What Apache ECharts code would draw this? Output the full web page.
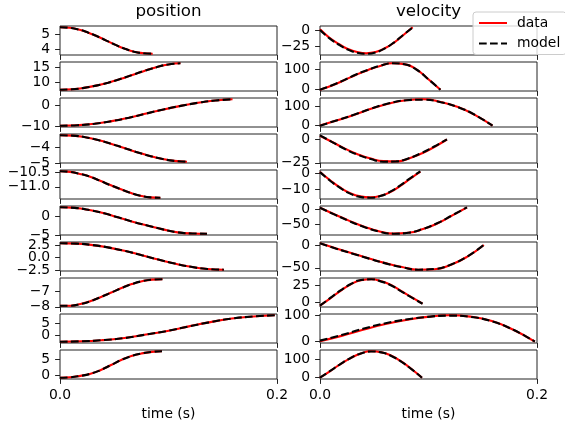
<!DOCTYPE html>
<html><head><meta charset="utf-8">
<script src="https://cdn.jsdelivr.net/npm/echarts@6/dist/echarts.min.js"></script>
<style>html,body{margin:0;padding:0;background:#fff}#c{width:565px;height:426px}</style>
</head><body><div id="c"></div>
<script>
const FONT = 'DejaVu Sans';
const columnTitles = ['position', 'velocity'];
const xLabel = 'time (s)';
const xTicks = [0, 0.2];

const times = [
  [0,0.0085,0.0171,0.0256,0.0342,0.0427,0.0512,0.0598,0.0683,0.0769,0.0854],
  [0,0.0111,0.0222,0.0333,0.0444,0.0555,0.0666,0.0777,0.0888,0.0999,0.111],
  [0,0.0159,0.0318,0.0477,0.0636,0.0795,0.0954,0.1113,0.1272,0.1431,0.159],
  [0,0.0117,0.0234,0.0351,0.0468,0.0585,0.0702,0.0819,0.0936,0.1053,0.117],
  [0,0.0093,0.0185,0.0278,0.037,0.0463,0.0555,0.0648,0.074,0.0833,0.0925],
  [0,0.0136,0.0271,0.0407,0.0542,0.0678,0.0813,0.0949,0.1084,0.122,0.1355],
  [0,0.0151,0.0302,0.0453,0.0604,0.0755,0.0906,0.1057,0.1208,0.1359,0.151],
  [0,0.0095,0.0189,0.0284,0.0378,0.0473,0.0567,0.0662,0.0756,0.0851,0.0945],
  [0,0.0198,0.0396,0.0594,0.0792,0.099,0.1188,0.1386,0.1584,0.1782,0.198],
  [0,0.0094,0.0188,0.0282,0.0376,0.047,0.0564,0.0658,0.0752,0.0846,0.094]
];

const posData = [
  [5.43,5.40,5.29,5.10,4.85,4.57,4.29,4.04,3.85,3.75,3.72],
  [7.40,7.54,8.02,8.78,9.78,11.02,12.40,13.78,15.02,15.97,16.35],
  [-9.60,-9.38,-8.70,-7.45,-5.80,-3.85,-1.90,-0.20,1.25,2.35,2.90],
  [-3.25,-3.27,-3.37,-3.55,-3.78,-4.04,-4.30,-4.54,-4.74,-4.87,-4.92],
  [-10.46,-10.48,-10.55,-10.65,-10.79,-10.94,-11.08,-11.21,-11.31,-11.37,-11.38],
  [2.48,2.32,1.75,0.85,-0.30,-1.50,-2.50,-3.50,-4.30,-4.60,-4.66],
  [2.83,2.77,2.48,1.98,1.30,0.48,-0.36,-1.15,-1.80,-2.22,-2.36],
  [-7.93,-7.93,-7.83,-7.64,-7.38,-7.10,-6.82,-6.57,-6.39,-6.29,-6.27],
  [-2.94,-2.78,-2.25,-1.35,0.20,1.80,3.80,5.70,7.25,8.20,8.69],
  [-0.60,-0.48,-0.05,0.60,1.75,3.25,4.80,6.00,6.80,7.28,7.44]
];
const posModel = posData;

const velData = [
  [2,-11,-21,-29,-34,-35.9,-34,-28,-19,-7,5.2],
  [-2,19,45,73,97,117,130,126,100,50,-2],
  [0,28,57,89,116,133,138,124,97,55,-1],
  [4,-3,-10,-16,-20.5,-23.2,-23.5,-20.3,-15,-8,0],
  [0.6,-4.5,-9,-12.5,-14.5,-15.1,-14.3,-11.8,-8,-3.5,0.8],
  [4,-18,-39,-58,-73,-80.7,-78,-66,-47,-21,5.5],
  [4.4,-7,-18,-29,-39.5,-48,-54,-53,-43,-25,0.7],
  [-4.4,6.5,17.5,27,33,34.4,31.5,25.5,16.5,7.5,-1.5],
  [2,22,45,66,82,94,100,95,78,45,0],
  [-1,36,74,108,134,146,141,121,88,46,-1]
];
const velModel = [
  [1,-12,-22,-30,-35,-36.5,-34.5,-28,-18.5,-6.5,5],
  [-2,20,46,74,98,118,130,125,99,50,-2],
  [-1,28,58,90,117,133,136,123,97,55,-1],
  [4.5,-3,-10.5,-16.5,-21,-23.8,-23.5,-20,-14.5,-7.5,0.2],
  [0.5,-4.8,-9.3,-12.8,-14.8,-15.3,-14.3,-11.6,-7.7,-3.2,1],
  [4,-18.5,-40,-59,-74,-81,-78,-65.5,-46,-20.5,5.5],
  [4.4,-7.5,-18.5,-29.5,-40,-48.5,-54,-52.5,-42.5,-24.5,1],
  [-4.4,7,18,27.5,33.5,34.4,31,25,16,7,-1.5],
  [4,25,49,69,84,94,99,94,77,45,0],
  [-1,37,75,109,134,145,140,120,87,45,-1]
];

const posTicks = [[4,5],[10,15],[-10,0],[-5,-4],[-11,-10.5],[-5,0],[-2.5,0,2.5],[-8,-7],[0,5],[0,5]];
const posDecimals = [0,0,0,0,1,0,1,0,0,0];
const velTicks = [[-25,0],[0,100],[0,100],[-25,0],[-10,0],[-50,0],[-50,0],[0,25],[0,100],[0,100]];
const velDecimals = [0,0,0,0,0,0,0,0,0,0];

const fmt = (v, dec) => v.toFixed(dec).replace('-', '\u2212');
const labelStyle = {fontSize: 13.9, color: '#000', fontFamily: FONT};
const LABEL_GAP = 9.8;

const grids = [], xAxes = [], yAxes = [], series = [], yLabelJobs = [];
const nRows = posData.length;
for (let col = 0; col < 2; col++) {
  for (let r = 0; r < nRows; r++) {
    const idx = col * nRows + r;
    const last = r === nRows - 1;
    grids.push({left: col ? 320 : 60, width: 217, top: 26 + 36 * r, height: 29,
      show: true, borderColor: '#222', borderWidth: 1, backgroundColor: 'transparent'});
    const xAxis = {gridIndex: idx, type: 'value', position: 'bottom', min: 0, max: 0.2,
      axisLine: {show: false, onZero: false}, splitLine: {show: false},
      axisTick: {show: true, customValues: xTicks, length: 4.9, lineStyle: {color: '#222', width: 1}},
      axisLabel: {show: false}};
    if (last) {
      xAxis.axisLabel = Object.assign({show: true, customValues: xTicks, formatter: v => fmt(v, 1), margin: LABEL_GAP,
        showMinLabel: true, showMaxLabel: true, hideOverlap: false}, labelStyle);
      xAxis.name = xLabel;
      xAxis.nameLocation = 'middle';
      xAxis.nameGap = 28;
      xAxis.nameTextStyle = labelStyle;
    }
    xAxes.push(xAxis);
    const d = col ? velData[r] : posData[r];
    const m = col ? velModel[r] : posModel[r];
    const ticks = col ? velTicks[r] : posTicks[r];
    const dec = col ? velDecimals[r] : posDecimals[r];
    const lo = Math.min(...d, ...m), hi = Math.max(...d, ...m), pad = (hi - lo) * 0.05;
    yAxes.push({gridIndex: idx, type: 'value', position: 'left', min: lo - pad, max: hi + pad,
      axisLine: {show: false, onZero: false}, splitLine: {show: false},
      axisTick: {show: true, customValues: ticks, length: 4.9, lineStyle: {color: '#222', width: 1}},
      axisLabel: {show: false}});
    ticks.forEach(tv => yLabelJobs.push({x: idx, y: idx, value: tv, text: fmt(tv, dec)}));
    series.push({type: 'line', name: 'data', xAxisIndex: idx, yAxisIndex: idx,
      data: times[r].map((t, k) => [t, d[k]]), symbol: 'none', smooth: true,
      lineStyle: {color: '#ff0000', width: 2.1}, itemStyle: {color: '#ff0000'}, z: 2});
    series.push({type: 'line', name: 'model', xAxisIndex: idx, yAxisIndex: idx,
      data: times[r].map((t, k) => [t, m[k]]), symbol: 'none', smooth: true,
      lineStyle: {color: '#000000', width: 2.1, type: [7.7, 3.3]}, itemStyle: {color: '#000000'}, z: 3});
  }
}

const chart = echarts.init(document.getElementById('c'), null, {renderer: 'canvas'});
chart.setOption({
  animation: false,
  backgroundColor: '#ffffff',
  title: [
    {text: columnTitles[0], left: 168.5, top: 3, textAlign: 'center', padding: 0,
     textStyle: {fontSize: 16.7, fontWeight: 'normal', color: '#000', fontFamily: FONT}},
    {text: columnTitles[1], left: 428.5, top: 3, textAlign: 'center', padding: 0,
     textStyle: {fontSize: 16.7, fontWeight: 'normal', color: '#000', fontFamily: FONT}}
  ],
  legend: {data: ['data', 'model'],
    orient: 'vertical', left: 473, top: 12,
    itemWidth: 28, itemHeight: 13, itemGap: 6.5, padding: [4, 6, 4, 5],
    selectedMode: false, itemStyle: {opacity: 0},
    backgroundColor: 'rgba(255,255,255,0.8)', borderColor: '#cccccc', borderWidth: 1, borderRadius: 3,
    textStyle: {fontSize: 13.9, color: '#000', fontFamily: FONT, padding: [0, 0, 0, 5]}},
  grid: grids, xAxis: xAxes, yAxis: yAxes, series: series
});

// y tick labels: placed at the pixel that the axis scale gives for each tick value
const yLabels = yLabelJobs.map(job => {
  const px = chart.convertToPixel({xAxisIndex: job.x}, 0);
  const py = chart.convertToPixel({yAxisIndex: job.y}, job.value);
  return {type: 'text', x: px - LABEL_GAP, y: py, z: 100, zlevel: 1, silent: true,
    style: {text: job.text, align: 'right', verticalAlign: 'middle',
      font: '13.9px "' + FONT + '"', fill: '#000'}};
});
chart.setOption({graphic: {elements: yLabels}});
</script></body></html>
